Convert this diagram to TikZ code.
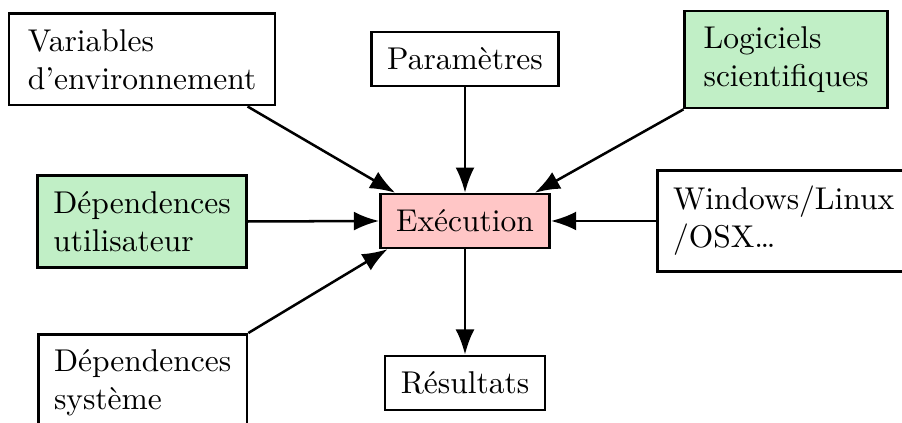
\documentclass[tikz,border=0pt]{standalone}
\usepackage{tikz}
\usetikzlibrary{arrows.meta}

\definecolor{boxgreen}{RGB}{193,239,198}
\definecolor{boxpink}{RGB}{255,198,198}

\tikzset{
  box/.style={draw, thick, fill=white, inner sep=5pt, align=left},
  greenbox/.style={box, fill=boxgreen},
  execbox/.style={box, fill=boxpink},
  flow/.style={thick, -{Latex[length=8pt,width=6pt]}}
}

\begin{document}
\begin{tikzpicture}[x=0.3175pt, y=-0.3175pt]

	% page frame, in pixels of the reference
	\useasboundingbox (0,0) rectangle (902,423);
	\clip (0,0) rectangle (902,423);

	% the central node
	\node[execbox] (Exec) at (465,221) {Exécution};

	% inputs around it
	\node[box, inner xsep=6pt] (Var) at (142,59.5) {Variables\\d’environnement};
	\node[box]      (Param) at (465,59)   {Paramètres};
	\node[greenbox, inner xsep=6pt] (Logi) at (786,59.5) {Logiciels\\scientifiques};
	\node[greenbox] (DepU)  at (142,221.5) {Dépendences\\utilisateur};
	\node[box, anchor=west, text width=80pt] (OS) at (656,221) {Windows/Linux\\/OSX…};
	\node[box, anchor=north west] (DepS) at (37,333)  {Dépendences\\système};

	% output
	\node[box] (Res) at (465,383) {Résultats};

	%%%%%%%%%%%%%%%%%%%%%%%%%%%%%%%%%%%%%%%%%%%%%%%%%%%%%%%%%%%%%%
	\draw[flow] (Var.-24)          -- (Exec.158);
	\draw[flow] (Param.south)      -- (Exec.north);
	\draw[flow] (Logi.south west)  -- (Exec.22);
	\draw[flow] (DepU.east)        -- (Exec.west);
	\draw[flow] (OS.west)          -- (Exec.east);
	\draw[flow] (DepS.north east)  -- (Exec.200);
	\draw[flow] (Exec.south)       -- (Res.north);

\end{tikzpicture}
\end{document}
